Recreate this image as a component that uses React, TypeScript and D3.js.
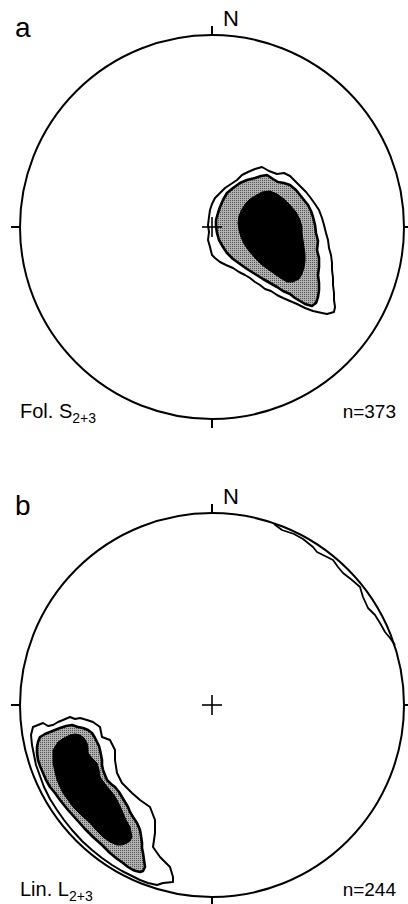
import * as d3 from "d3"
import { useEffect, useRef } from "react"

type Pt = [number, number]

// net units: primitive circle radius = 192, x east, y north
const NET_R = 192

const panelLetters = ["a", "b"]
const fabricNames = ["Fol. S", "Lin. L"]
const fabricSubs = ["2+3", "2+3"]
const sampleCounts = [373, 244]

// panel a, poles to foliation
const folOuter: Pt[] = [
  [36, 55], [43, 58], [50, 60], [57, 56], [65, 53], [72, 54], [78, 51], [84, 45],
  [88, 41], [94, 35], [98, 30], [103, 23], [107, 17], [110, 9], [112, 2], [114, -6],
  [116, -13], [117, -21], [119, -28], [120, -36], [120, -43], [121, -51], [121, -58],
  [122, -66], [122, -73], [123, -80], [122, -85], [115, -87], [110, -86], [101, -84],
  [93, -81], [85, -77], [78, -74], [71, -71], [65, -68], [59, -64], [53, -62],
  [48, -58], [43, -55], [38, -51], [33, -48], [27, -45], [21, -41], [14, -38],
  [8, -35], [3, -31], [0, -28], [-2, -20], [-4, -13], [-3, -5], [-4, 2], [-3, 10],
  [-2, 17], [0, 23], [3, 29], [8, 34], [13, 39], [19, 43], [25, 47], [30, 52]
]

const folMid: Pt[] = [
  [43, 49], [49, 51], [55, 52], [61, 48], [66, 45], [72, 44], [78, 42], [84, 37],
  [88, 32], [92, 27], [96, 22], [99, 16], [101, 10], [103, 2], [104, -6], [106, -14],
  [105, -23], [107, -31], [107, -40], [106, -48], [107, -56], [107, -63], [106, -70],
  [104, -76], [100, -79], [93, -77], [88, -74], [83, -71], [78, -67], [71, -64],
  [65, -60], [58, -56], [51, -52], [43, -47], [35, -42], [28, -37], [21, -32],
  [15, -26], [11, -20], [7, -13], [5, -6], [4, 1], [4, 7], [6, 14], [8, 20],
  [11, 27], [15, 34], [21, 39], [28, 44], [35, 47]
]

const folInner: Pt[] = [
  [43, 31], [50, 35], [58, 36], [65, 33], [72, 28], [78, 22], [84, 15], [88, 7],
  [90, 0], [90, -6], [91, -13], [92, -20], [93, -27], [93, -34], [92, -41], [90, -47],
  [87, -52], [81, -55], [75, -55], [70, -52], [64, -48], [57, -43], [50, -38],
  [43, -31], [37, -24], [32, -17], [29, -10], [27, -3], [26, 4], [27, 11], [30, 18],
  [34, 24], [38, 28]
]

// panel b, lineations
const linOuter: Pt[] = [
  [-179, -22], [-174, -20], [-169, -18], [-164, -21], [-159, -20], [-154, -17],
  [-149, -15], [-142, -12], [-137, -14], [-132, -13], [-125, -15], [-119, -17],
  [-112, -22], [-110, -32], [-102, -35], [-97, -45], [-97, -55], [-95, -68],
  [-90, -78], [-80, -88], [-72, -95], [-62, -102], [-57, -115], [-57, -128],
  [-59, -142], [-52, -152], [-42, -162], [-39, -172], [-39, -177], [-49, -178],
  [-55, -180], [-64, -178], [-72, -175], [-80, -171], [-90, -166], [-100, -160],
  [-110, -153], [-120, -145], [-130, -136], [-140, -125], [-148, -115],
  [-155, -105], [-162, -94], [-168, -82], [-172, -71], [-176, -60], [-178, -50],
  [-180, -40], [-181, -30]
]

const linMid: Pt[] = [
  [-152, -23], [-146, -21], [-140, -20], [-134, -22], [-129, -23], [-124, -25],
  [-120, -28], [-117, -33], [-115, -37], [-113, -41], [-112, -45], [-111, -50],
  [-110, -55], [-110, -60], [-109, -65], [-107, -70], [-105, -75], [-101, -79],
  [-97, -82], [-93, -87], [-90, -92], [-87, -97], [-84, -102], [-82, -107],
  [-79, -112], [-75, -118], [-72, -125], [-71, -131], [-70, -138], [-70, -143],
  [-69, -148], [-68, -155], [-67, -162], [-69, -166], [-72, -167], [-76, -166],
  [-79, -165], [-84, -162], [-89, -158], [-96, -153], [-102, -148], [-110, -140],
  [-119, -132], [-127, -124], [-135, -115], [-144, -105], [-152, -95],
  [-157, -88], [-162, -82], [-166, -75], [-169, -68], [-172, -61], [-174, -55],
  [-175, -48], [-175, -42], [-174, -37], [-172, -32], [-167, -29], [-162, -27],
  [-157, -25]
]

const linInner: Pt[] = [
  [-154, -37], [-148, -33], [-142, -30], [-137, -29], [-132, -30], [-128, -33],
  [-125, -38], [-124, -43], [-124, -48], [-120, -53], [-115, -58], [-113, -65],
  [-112, -72], [-107, -79], [-102, -85], [-98, -90], [-95, -95], [-92, -101],
  [-89, -108], [-86, -115], [-82, -122], [-81, -127], [-80, -132], [-82, -136],
  [-85, -138], [-90, -140], [-95, -140], [-102, -137], [-109, -132], [-116, -125],
  [-122, -118], [-131, -110], [-139, -102], [-144, -95], [-149, -88], [-152, -82],
  [-155, -75], [-157, -67], [-159, -58], [-159, -51], [-159, -45]
]

// thin band along the NE rim of panel b
const linRim: Pt[] = [
  [62, 181], [70, 175], [76, 173], [82, 171], [91, 166], [101, 158], [105, 153],
  [113, 149], [121, 145], [126, 138], [131, 132], [140, 125], [148, 118],
  [151, 108], [156, 97], [163, 90], [168, 82], [173, 73], [178, 67], [183, 60]
]

const contourSets = [
  [folOuter, folMid, folInner],
  [linOuter, linMid, linInner]
]

const StereoPlots = () => {
  const svgRef = useRef<SVGSVGElement | null>(null)

  useEffect(() => {
    if (!svgRef.current) return
    const svg = d3.select(svgRef.current)
    svg.selectAll("*").remove()

    const cx = 212
    const r = 192
    const centers = [227, 705]
    const font = "'Liberation Sans', Arial, sans-serif"

    // stipple for the middle density class
    const pat = svg
      .append("defs")
      .append("pattern")
      .attr("id", "stipple")
      .attr("width", 2)
      .attr("height", 2)
      .attr("patternUnits", "userSpaceOnUse")
    pat.append("rect").attr("width", 2).attr("height", 2).attr("fill", "#b2b2b2")
    pat.append("rect").attr("width", 1).attr("height", 1).attr("fill", "#555")

    centers.forEach((cy, i) => {
      const x = d3.scaleLinear().domain([-NET_R, NET_R]).range([cx - r, cx + r])
      const y = d3.scaleLinear().domain([-NET_R, NET_R]).range([cy + r, cy - r])

      const g = svg.append("g")

      const closed = d3
        .line<Pt>()
        .x(d => x(d[0]))
        .y(d => y(d[1]))
        .curve(d3.curveLinearClosed)

      const [outer, mid, inner] = contourSets[i]

      g.append("path")
        .attr("d", closed(outer))
        .attr("fill", "#fff")
        .attr("stroke", "#000")
        .attr("stroke-width", 2)
        .attr("stroke-linejoin", "round")

      g.append("path")
        .attr("d", closed(mid))
        .attr("fill", "url(#stipple)")
        .attr("stroke", "#000")
        .attr("stroke-width", 2.6)
        .attr("stroke-linejoin", "round")

      g.append("path")
        .attr("d", closed(inner))
        .attr("fill", "#000")
        .attr("stroke", "#000")
        .attr("stroke-width", 1)

      if (i === 1) {
        const open = d3
          .line<Pt>()
          .x(d => x(d[0]))
          .y(d => y(d[1]))
        g.append("path")
          .attr("d", open(linRim))
          .attr("fill", "none")
          .attr("stroke", "#000")
          .attr("stroke-width", 1.8)
          .attr("stroke-linejoin", "round")
      }

      // primitive circle
      g.append("circle")
        .attr("cx", x(0))
        .attr("cy", y(0))
        .attr("r", r)
        .attr("fill", "none")
        .attr("stroke", "#000")
        .attr("stroke-width", 2)

      // N, E, S, W ticks
      const tick = 9
      const ticks: [number, number, number, number][] = [
        [x(0), y(NET_R) - tick, x(0), y(NET_R)],
        [x(0), y(-NET_R), x(0), y(-NET_R) + tick],
        [x(-NET_R) - tick, y(0), x(-NET_R), y(0)],
        [x(NET_R), y(0), x(NET_R) + tick, y(0)]
      ]
      ticks.forEach(t => {
        g.append("line")
          .attr("x1", t[0]).attr("y1", t[1])
          .attr("x2", t[2]).attr("y2", t[3])
          .attr("stroke", "#000")
          .attr("stroke-width", 2)
      })

      // centre cross
      const arm = 10
      g.append("line")
        .attr("x1", x(0) - arm).attr("y1", y(0))
        .attr("x2", x(0) + arm).attr("y2", y(0))
        .attr("stroke", "#000").attr("stroke-width", 1.6)
      g.append("line")
        .attr("x1", x(0)).attr("y1", y(0) - arm)
        .attr("x2", x(0)).attr("y2", y(0) + arm)
        .attr("stroke", "#000").attr("stroke-width", 1.6)

      // N label
      g.append("text")
        .attr("x", x(0) + 11)
        .attr("y", y(NET_R) - 9)
        .style("font-family", font)
        .style("font-size", "22px")
        .text("N")

      // panel letter
      g.append("text")
        .attr("x", 15)
        .attr("y", y(NET_R) + 2)
        .style("font-family", font)
        .style("font-size", "28px")
        .text(panelLetters[i])

      // fabric label with subscript
      const lab = g
        .append("text")
        .attr("x", 20)
        .attr("y", y(-NET_R) - 1)
        .style("font-family", font)
        .style("font-size", "20px")
      lab.append("tspan").text(fabricNames[i])
      lab.append("tspan")
        .attr("dy", 5)
        .style("font-size", "14px")
        .text(fabricSubs[i])

      g.append("text")
        .attr("x", 396)
        .attr("y", y(-NET_R) - 1)
        .attr("text-anchor", "end")
        .style("font-family", font)
        .style("font-size", "19px")
        .text(`n=${sampleCounts[i]}`)
    })
  }, [])

  return (
    <svg
      ref={svgRef}
      width={408}
      height={904}
      style={{ position: "absolute", left: 0, top: 0, background: "#fff" }}
    />
  )
}

export default function App() {
  return <StereoPlots />
}
